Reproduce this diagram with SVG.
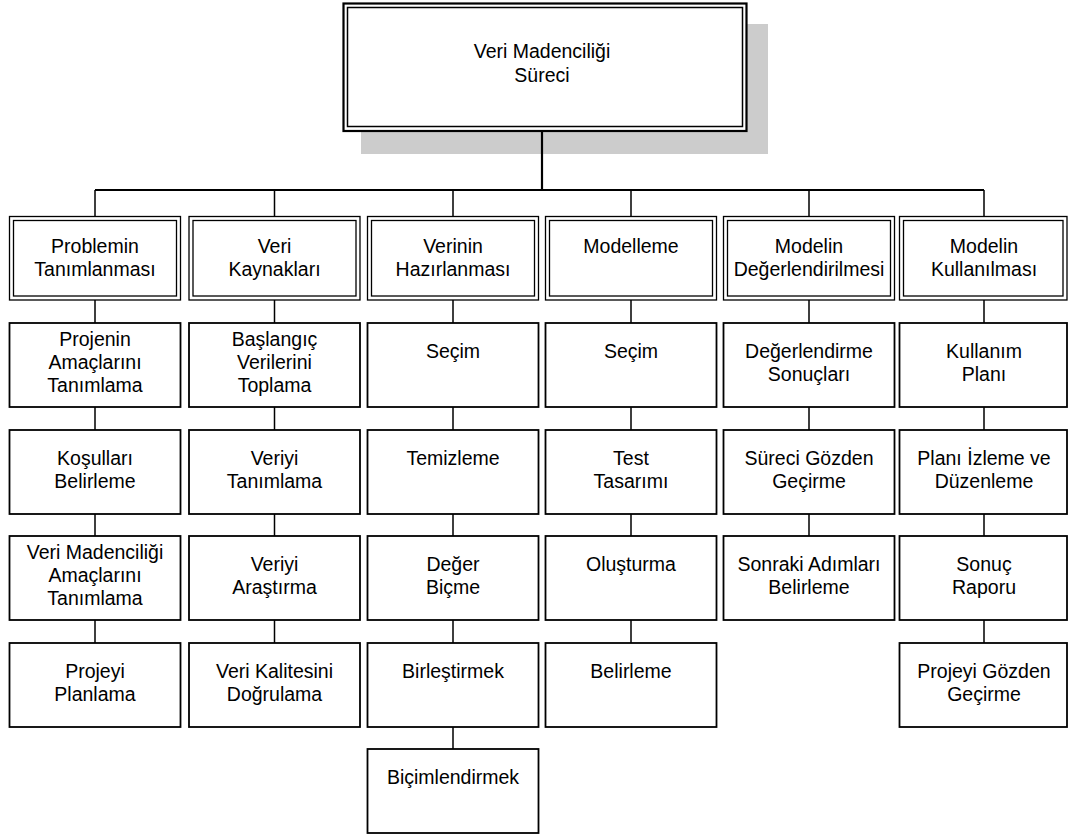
<svg xmlns="http://www.w3.org/2000/svg" width="1069" height="836" viewBox="0 0 1069 836">
  <style>
    text { font-family: "Liberation Sans", Arial, sans-serif; font-size: 19.5px; fill: #000; text-anchor: middle; }
    .box { fill: #fff; stroke: #000; stroke-width: 1.8; }
    .dbl { fill: #fff; stroke: #000; stroke-width: 1.3; }
    .edge { fill: none; stroke: #000; stroke-width: 1.5; }
    .bus { fill: none; stroke: #000; stroke-width: 2.2; }
  </style>

  <!-- root node with drop shadow -->
  <g id="root">
    <rect x="361" y="24" width="407" height="130" fill="#cccccc"/>
    <rect x="343.5" y="3.5" width="403" height="127.5" fill="#fff" stroke="#000" stroke-width="2.2"/>
    <rect x="347.5" y="7.5" width="395" height="119" fill="none" stroke="#000" stroke-width="1.5"/>
    <text x="542" y="58">Veri Madenciliği</text>
    <text x="542" y="82">Süreci</text>
  </g>

  <!-- connectors -->
  <g id="connectors">
    <path class="bus" d="M542 131 V190 M95 190 H984"/>
    <path class="edge" d="M95 190 V216 M274.5 190 V216 M453 190 V216 M631 190 V216 M809 190 V216 M984 190 V216"/>
    <!-- column 1 -->
    <path class="edge" d="M95 300 V323 M95 407 V430 M95 514 V536 M95 620 V643"/>
    <!-- column 2 -->
    <path class="edge" d="M274.5 300 V323 M274.5 407 V430 M274.5 514 V536 M274.5 620 V643"/>
    <!-- column 3 -->
    <path class="edge" d="M453 300 V323 M453 407 V430 M453 514 V536 M453 620 V643 M453 727 V749"/>
    <!-- column 4 -->
    <path class="edge" d="M631 300 V323 M631 407 V430 M631 514 V536 M631 620 V643"/>
    <!-- column 5 -->
    <path class="edge" d="M809 300 V323 M809 407 V430 M809 514 V536"/>
    <!-- column 6 -->
    <path class="edge" d="M984 300 V323 M984 407 V430 M984 514 V536 M984 620 V643"/>
  </g>

  <!-- phase headers (double border) -->
  <g id="h1">
    <rect class="dbl" x="9.5" y="216.5" width="171" height="83.5"/>
    <rect class="dbl" x="13.5" y="220.5" width="163" height="75.5"/>
    <text x="95" y="253">Problemin</text>
    <text x="95" y="276">Tanımlanması</text>
  </g>
  <g id="h2">
    <rect class="dbl" x="189" y="216.5" width="171" height="83.5"/>
    <rect class="dbl" x="193" y="220.5" width="163" height="75.5"/>
    <text x="274.5" y="253">Veri</text>
    <text x="274.5" y="276">Kaynakları</text>
  </g>
  <g id="h3">
    <rect class="dbl" x="367.5" y="216.5" width="171" height="83.5"/>
    <rect class="dbl" x="371.5" y="220.5" width="163" height="75.5"/>
    <text x="453" y="253">Verinin</text>
    <text x="453" y="276">Hazırlanması</text>
  </g>
  <g id="h4">
    <rect class="dbl" x="545.5" y="216.5" width="171" height="83.5"/>
    <rect class="dbl" x="549.5" y="220.5" width="163" height="75.5"/>
    <text x="631" y="253">Modelleme</text>
  </g>
  <g id="h5">
    <rect class="dbl" x="723.5" y="216.5" width="171" height="83.5"/>
    <rect class="dbl" x="727.5" y="220.5" width="163" height="75.5"/>
    <text x="809" y="253">Modelin</text>
    <text x="809" y="276">Değerlendirilmesi</text>
  </g>
  <g id="h6">
    <rect class="dbl" x="899.5" y="216.5" width="167.5" height="83.5"/>
    <rect class="dbl" x="903.5" y="220.5" width="159.5" height="75.5"/>
    <text x="984" y="253">Modelin</text>
    <text x="984" y="276">Kullanılması</text>
  </g>

  <!-- column 1 tasks -->
  <g id="c1r1"><rect class="box" x="9.5" y="323" width="171" height="84"/>
    <text x="95" y="346">Projenin</text><text x="95" y="369">Amaçlarını</text><text x="95" y="391.5">Tanımlama</text></g>
  <g id="c1r2"><rect class="box" x="9.5" y="430" width="171" height="84"/>
    <text x="95" y="465">Koşulları</text><text x="95" y="488">Belirleme</text></g>
  <g id="c1r3"><rect class="box" x="9.5" y="536" width="171" height="84"/>
    <text x="95" y="559">Veri Madenciliği</text><text x="95" y="582">Amaçlarını</text><text x="95" y="604.5">Tanımlama</text></g>
  <g id="c1r4"><rect class="box" x="9.5" y="643" width="171" height="84"/>
    <text x="95" y="678">Projeyi</text><text x="95" y="701">Planlama</text></g>

  <!-- column 2 tasks -->
  <g id="c2r1"><rect class="box" x="189" y="323" width="171" height="84"/>
    <text x="274.5" y="346">Başlangıç</text><text x="274.5" y="369">Verilerini</text><text x="274.5" y="391.5">Toplama</text></g>
  <g id="c2r2"><rect class="box" x="189" y="430" width="171" height="84"/>
    <text x="274.5" y="465">Veriyi</text><text x="274.5" y="488">Tanımlama</text></g>
  <g id="c2r3"><rect class="box" x="189" y="536" width="171" height="84"/>
    <text x="274.5" y="571">Veriyi</text><text x="274.5" y="594">Araştırma</text></g>
  <g id="c2r4"><rect class="box" x="189" y="643" width="171" height="84"/>
    <text x="274.5" y="678">Veri Kalitesini</text><text x="274.5" y="701">Doğrulama</text></g>

  <!-- column 3 tasks -->
  <g id="c3r1"><rect class="box" x="367.5" y="323" width="171" height="84"/>
    <text x="453" y="358">Seçim</text></g>
  <g id="c3r2"><rect class="box" x="367.5" y="430" width="171" height="84"/>
    <text x="453" y="465">Temizleme</text></g>
  <g id="c3r3"><rect class="box" x="367.5" y="536" width="171" height="84"/>
    <text x="453" y="571">Değer</text><text x="453" y="594">Biçme</text></g>
  <g id="c3r4"><rect class="box" x="367.5" y="643" width="171" height="84"/>
    <text x="453" y="678">Birleştirmek</text></g>
  <g id="c3r5"><rect class="box" x="367.5" y="749" width="171" height="84"/>
    <text x="453" y="784">Biçimlendirmek</text></g>

  <!-- column 4 tasks -->
  <g id="c4r1"><rect class="box" x="545.5" y="323" width="171" height="84"/>
    <text x="631" y="358">Seçim</text></g>
  <g id="c4r2"><rect class="box" x="545.5" y="430" width="171" height="84"/>
    <text x="631" y="465">Test</text><text x="631" y="488">Tasarımı</text></g>
  <g id="c4r3"><rect class="box" x="545.5" y="536" width="171" height="84"/>
    <text x="631" y="571">Oluşturma</text></g>
  <g id="c4r4"><rect class="box" x="545.5" y="643" width="171" height="84"/>
    <text x="631" y="678">Belirleme</text></g>

  <!-- column 5 tasks -->
  <g id="c5r1"><rect class="box" x="723.5" y="323" width="171" height="84"/>
    <text x="809" y="358">Değerlendirme</text><text x="809" y="381">Sonuçları</text></g>
  <g id="c5r2"><rect class="box" x="723.5" y="430" width="171" height="84"/>
    <text x="809" y="465">Süreci Gözden</text><text x="809" y="488">Geçirme</text></g>
  <g id="c5r3"><rect class="box" x="723.5" y="536" width="171" height="84"/>
    <text x="809" y="571">Sonraki Adımları</text><text x="809" y="594">Belirleme</text></g>

  <!-- column 6 tasks -->
  <g id="c6r1"><rect class="box" x="899.5" y="323" width="167.5" height="84"/>
    <text x="984" y="358">Kullanım</text><text x="984" y="381">Planı</text></g>
  <g id="c6r2"><rect class="box" x="899.5" y="430" width="167.5" height="84"/>
    <text x="984" y="465">Planı İzleme ve</text><text x="984" y="488">Düzenleme</text></g>
  <g id="c6r3"><rect class="box" x="899.5" y="536" width="167.5" height="84"/>
    <text x="984" y="571">Sonuç</text><text x="984" y="594">Raporu</text></g>
  <g id="c6r4"><rect class="box" x="899.5" y="643" width="167.5" height="84"/>
    <text x="984" y="678">Projeyi Gözden</text><text x="984" y="701">Geçirme</text></g>
</svg>
